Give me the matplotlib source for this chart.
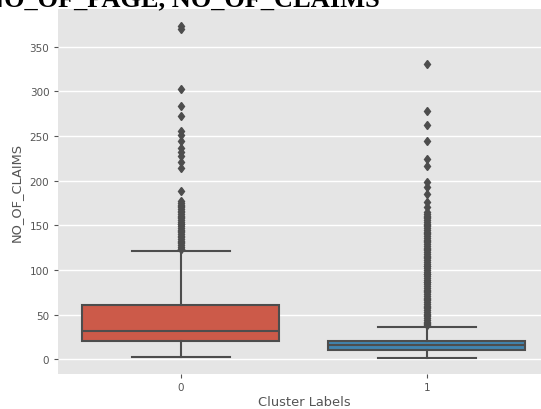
import matplotlib
matplotlib.use('Agg')
import matplotlib.pyplot as plt

# Cluster labels on the x axis
clusters = ['0', '1']

# Box statistics per cluster (NO_OF_CLAIMS)
whislo = [2, 1]
q1 = [20, 10]
med = [32, 16]
q3 = [61, 21]
whishi = [121, 36]

# Outliers beyond the whiskers
fliers_0 = [373, 370, 303, 284, 272, 256, 251, 245, 237, 232, 228, 221, 214, 189,
            177, 175, 173, 172, 170, 168, 166, 165, 163, 161, 159, 158, 156, 154,
            152, 151, 149, 147, 145, 144, 142, 140, 138, 137, 135, 133, 131, 130,
            128, 126, 124, 123]
fliers_1 = [331, 278, 262, 245, 224, 217, 198, 193, 185, 176, 170,
            165, 163, 161, 159, 158, 156, 154, 152, 150, 149, 147, 145, 143, 141,
            140, 138, 136, 134, 132, 131, 129, 127, 125, 123, 122, 120, 118, 116,
            114, 113, 111, 109, 107, 105, 104, 102, 100, 98, 96, 95, 93, 91, 89,
            87, 86, 84, 82, 80, 78, 77, 75, 73, 71, 69, 68, 66, 64, 62, 60, 59,
            57, 55, 53, 51, 50, 48, 46, 44, 42, 41, 39, 38]

box_colors = ['#cc5a49', '#4284ae']
line_color = '#4d4d4d'

plt.style.use('ggplot')
fig = plt.figure(figsize=(5.41, 4.10), dpi=100)
ax = fig.add_axes([57.7 / 541, 1 - 375 / 410, 492.3 / 541, 365 / 410])

stats = []
for i in range(len(clusters)):
    stats.append(dict(whislo=whislo[i], q1=q1[i], med=med[i], q3=q3[i],
                      whishi=whishi[i], fliers=[fliers_0, fliers_1][i]))

bp = ax.bxp(stats, positions=[0, 1], widths=0.8, patch_artist=True,
            boxprops=dict(edgecolor=line_color, linewidth=1.5),
            medianprops=dict(color=line_color, linewidth=1.5),
            whiskerprops=dict(color=line_color, linewidth=1.5),
            capprops=dict(color=line_color, linewidth=1.5),
            flierprops=dict(marker='d', markerfacecolor=line_color,
                            markeredgecolor=line_color, markersize=4.5))
for patch, c in zip(bp['boxes'], box_colors):
    patch.set_facecolor(c)

ax.set_xlim(-0.5, 1.5)
ax.set_ylim(-16.5, 392.3)
ax.set_xticks([0, 1])
ax.set_xticklabels(clusters)
ax.set_yticks([0, 50, 100, 150, 200, 250, 300, 350])
ax.tick_params(labelsize=7.5, colors='#555555', length=3, pad=3)
ax.xaxis.grid(False)
ax.yaxis.grid(True, color='white', linewidth=1)
ax.set_axisbelow(True)
ax.set_facecolor('#e5e5e5')
for s in ax.spines.values():
    s.set_visible(False)
ax.set_xlabel('Cluster Labels', fontsize=9.4, color='#555555', labelpad=2)
ax.set_ylabel('NO_OF_CLAIMS', fontsize=9.4, color='#555555', labelpad=5)

# Heading above the plot, cut by the top edge
fig.text(380 / 541, 1 - 6 / 410, 'NO_OF_PAGE, NO_OF_CLAIMS', ha='right',
         va='baseline', fontsize=19, fontweight='bold',
         family='Liberation Serif', color='black')

fig.savefig('out.png', dpi=100, facecolor='white')
